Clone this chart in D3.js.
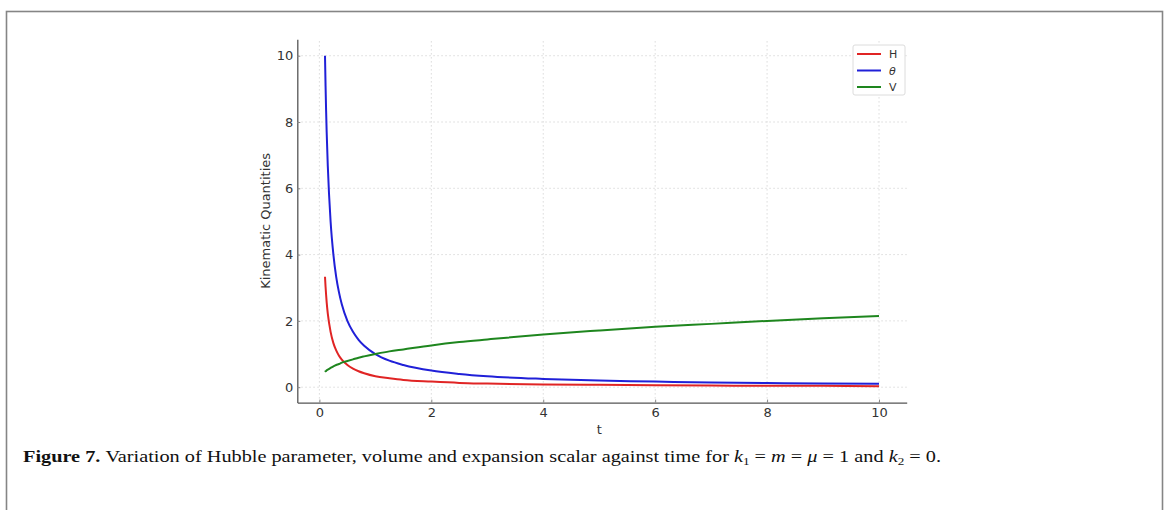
<!DOCTYPE html>
<html>
<head>
<meta charset="utf-8">
<script src="https://cdn.jsdelivr.net/npm/d3@7"></script>
<style>
  body { margin: 0; background: #fff; }
  svg text { font-family: "DejaVu Sans", sans-serif; }
</style>
</head>
<body>
<div id="chart"></div>
<script>
// values
var tValues = [0.1, 0.11, 0.12, 0.13, 0.15, 0.2, 0.25, 0.3, 0.35, 0.4, 0.5, 0.6, 0.7, 0.8, 1, 1.25, 1.5, 2, 2.5, 3, 4, 5, 6, 7, 8, 9, 10];
var hValues = [3.33, 3.03, 2.78, 2.56, 2.22, 1.67, 1.33, 1.11, 0.95, 0.83, 0.67, 0.56, 0.48, 0.42, 0.33, 0.27, 0.22, 0.17, 0.13, 0.11, 0.08, 0.07, 0.06, 0.05, 0.04, 0.04, 0.03];
var thetaValues = [10, 9.09, 8.33, 7.69, 6.67, 5, 4, 3.33, 2.86, 2.5, 2, 1.67, 1.43, 1.25, 1, 0.8, 0.67, 0.5, 0.4, 0.33, 0.25, 0.2, 0.17, 0.14, 0.125, 0.11, 0.1];
var vValues = [0.46, 0.48, 0.49, 0.51, 0.53, 0.58, 0.63, 0.67, 0.70, 0.74, 0.79, 0.84, 0.89, 0.93, 1.0, 1.08, 1.14, 1.26, 1.36, 1.44, 1.59, 1.71, 1.82, 1.91, 2.0, 2.08, 2.15];
var seriesNames = ["H", "θ", "V"];
var seriesColors = ["#e02424", "#2020d8", "#1e861e"];
var xTicks = [0, 2, 4, 6, 8, 10];
var yTicks = [0, 2, 4, 6, 8, 10];

var width = 1168, height = 510;
var svg = d3.select("#chart").append("svg")
    .attr("width", width)
    .attr("height", height);

// outer frame of the figure
svg.append("rect")
    .attr("x", 6.5).attr("y", 11.5)
    .attr("width", 1156).attr("height", 520)
    .attr("fill", "none")
    .attr("stroke", "#858585")
    .attr("stroke-width", 1.6);

var x = d3.scaleLinear().domain([-0.395, 10.495]).range([297.3, 906.7]);
var y = d3.scaleLinear().domain([-0.465, 10.498]).range([402.6, 39.2]);

// grid
var grid = svg.append("g").attr("stroke", "#d6d6d6").attr("stroke-dasharray", "1.5,2.5").attr("stroke-width", 0.9);
xTicks.forEach(function (d) {
    grid.append("line").attr("x1", x(d)).attr("x2", x(d)).attr("y1", y.range()[0]).attr("y2", y.range()[1]);
});
yTicks.forEach(function (d) {
    grid.append("line").attr("y1", y(d)).attr("y2", y(d)).attr("x1", x.range()[0]).attr("x2", x.range()[1]);
});

// axes
var xAxis = svg.append("g")
    .attr("transform", "translate(0," + y.range()[0] + ")")
    .call(d3.axisBottom(x).tickValues(xTicks).tickSize(-3).tickPadding(5).tickSizeOuter(0));
var yAxis = svg.append("g")
    .attr("transform", "translate(" + x.range()[0] + ",0)")
    .call(d3.axisLeft(y).tickValues(yTicks).tickSize(-3).tickPadding(4).tickSizeOuter(0));

[xAxis, yAxis].forEach(function (a) {
    a.attr("font-size", 13);
    a.select(".domain").attr("stroke", "#555").attr("stroke-width", 1.3);
    a.selectAll(".tick line").attr("stroke", "#888");
    a.selectAll(".tick text").attr("fill", "#333");
});

svg.append("text")
    .attr("x", x(5)).attr("y", 434)
    .attr("text-anchor", "middle")
    .attr("font-size", 13).attr("fill", "#333")
    .text("t");

svg.append("text")
    .attr("transform", "translate(270," + ((y.range()[0] + y.range()[1]) / 2) + ")rotate(-90)")
    .attr("text-anchor", "middle")
    .attr("font-size", 13).attr("fill", "#333")
    .text("Kinematic Quantities");

// lines
var allSeries = [hValues, thetaValues, vValues];
var line = d3.line()
    .x(function (d, i) { return x(tValues[i]); })
    .y(function (d) { return y(d); })
    .curve(d3.curveMonotoneX);

allSeries.forEach(function (vals, k) {
    svg.append("path")
        .datum(vals)
        .attr("d", line)
        .attr("fill", "none")
        .attr("stroke", seriesColors[k])
        .attr("stroke-width", 2);
});

// legend
var legend = svg.append("g");
legend.append("rect")
    .attr("x", 853).attr("y", 45)
    .attr("width", 52).attr("height", 50)
    .attr("rx", 2)
    .attr("fill", "#fff")
    .attr("stroke", "#dcdcdc");
seriesNames.forEach(function (name, k) {
    var ly = 54 + k * 16.5;
    legend.append("line")
        .attr("x1", 857).attr("x2", 881)
        .attr("y1", ly).attr("y2", ly)
        .attr("stroke", seriesColors[k]).attr("stroke-width", 2);
    legend.append("text")
        .attr("x", 889).attr("y", ly + 4)
        .attr("font-size", 11).attr("fill", "#333")
        .attr("font-style", name === "θ" ? "italic" : "normal")
        .text(name);
});

// caption
var cap = svg.append("text")
    .attr("x", 23).attr("y", 462)
    .attr("font-size", 17)
    .attr("fill", "#111")
    .style("font-family", "'Liberation Serif', serif")
    .attr("textLength", 918)
    .attr("lengthAdjust", "spacingAndGlyphs");
cap.append("tspan").attr("font-weight", "bold").text("Figure 7. ");
cap.append("tspan").text("Variation of Hubble parameter, volume and expansion scalar against time for ");
cap.append("tspan").attr("font-style", "italic").text("k");
cap.append("tspan").attr("font-size", 11).attr("dy", 3).text("1");
cap.append("tspan").attr("dy", -3).text(" = ");
cap.append("tspan").attr("font-style", "italic").text("m");
cap.append("tspan").text(" = ");
cap.append("tspan").attr("font-style", "italic").text("μ");
cap.append("tspan").text(" = 1 and ");
cap.append("tspan").attr("font-style", "italic").text("k");
cap.append("tspan").attr("font-size", 11).attr("dy", 3).text("2");
cap.append("tspan").attr("dy", -3).text(" = 0.");
</script>
</body>
</html>
